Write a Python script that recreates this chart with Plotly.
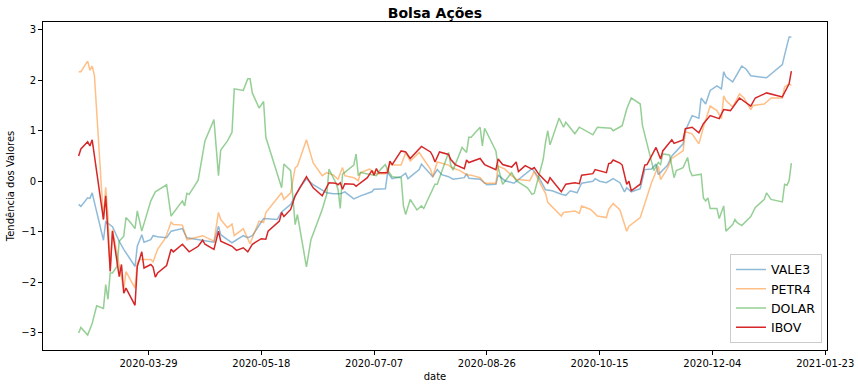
import pandas as pd
import plotly.graph_objects as go

START = "2020-02-27"

# day offsets from START and values
vale_day = [0, 1, 4, 5, 6, 11, 12, 15, 18, 20, 25, 26, 28, 29, 32, 33, 35, 39, 41, 46, 48, 54, 60, 62, 63,
            68, 73, 75, 77, 82, 88, 90, 94, 98, 101, 104, 110, 113, 116, 118, 122, 125, 130, 131, 136, 137,
            139, 143, 145, 146, 148, 151, 152, 155, 157, 159, 161, 164, 166, 171, 172, 173, 178, 181, 185,
            186, 189, 193, 195, 198, 201, 203, 204, 207, 210, 214, 216, 218, 221, 223, 228, 229, 231, 234,
            237, 240, 242, 243, 245, 249, 251, 254, 256, 257, 261, 263, 268, 269, 272, 275, 276, 278, 280,
            283, 285, 286, 287, 290, 294, 296, 298, 305, 312, 313, 315, 316]
vale_val = [-0.46, -0.50, -0.33, -0.34, -0.23, -1.17, -0.80, -0.90, -1.19, -1.35, -1.69, -1.29, -1.06, -1.21,
            -1.16, -1.08, -1.10, -1.12, -0.99, -0.94, -1.12, -1.17, -1.21, -0.89, -1.06,
            -1.22, -1.08, -1.12, -1.08, -0.74, -0.76, -0.61, -0.46, -0.13, 0.05, -0.07, -0.23, -0.25, -0.25,
            -0.21, -0.35, -0.29, -0.21, -0.16, -0.15, 0.17,
            0.05, 0.09, 0.16, 0.05, 0.13, 0.23, 0.34, 0.19, 0.09, 0.23, 0.13, 0.09, 0.04, 0.07, 0.15, 0.06,
            0.04, -0.07, -0.06,
            0.12, 0.01, -0.04, 0.03, 0.13, 0.25, 0.13, 0.08, -0.17, -0.19, -0.26, -0.28, -0.19, -0.23, -0.04,
            0.00, 0.05, 0.00, -0.03,
            0.05, -0.03, -0.21, -0.13, -0.21, -0.15, 0.23, 0.24, 0.34, 0.13, 0.31, 0.50, 0.74, 1.00, 1.30,
            1.25, 1.65, 1.53, 1.80,
            1.89, 1.83, 2.17, 2.07, 1.97, 2.28, 2.22, 2.09, 2.05, 2.31, 2.50, 2.86, 2.86]

petr_day = [0, 1, 4, 5, 6, 7, 11, 12, 13, 14, 15, 17, 18, 20, 21, 25, 26, 27, 32, 33, 35, 38, 39, 41, 42,
            46, 48, 55, 60, 62, 63, 66, 68, 69, 73, 76, 80, 82, 83, 88, 90, 91, 94, 96, 97, 101, 104, 108,
            110, 113, 115, 117, 118, 122, 124, 125, 129, 132, 136, 138, 140, 143, 145, 147, 151, 152, 156,
            157, 159, 164, 165, 169, 172, 174, 178, 180, 185, 186, 189, 192, 194, 200, 202, 206, 207, 208,
            214, 215, 220, 222, 223, 227, 230, 234, 235, 237, 240, 243, 244, 249, 252, 254, 257, 258, 261,
            263, 268, 269, 272, 275, 277, 280, 283, 285, 286, 287, 290, 293, 295, 298, 299, 304, 307, 312,
            313, 315, 316]
petr_val = [2.17, 2.17, 2.38, 2.20, 2.28, 2.10, -0.76, -0.12, -0.69, -1.75, -0.96, -1.42, -1.69, -2.15, -1.79,
            -2.12, -1.62, -1.55, -1.55, -1.60, -1.35, -1.16, -1.06, -0.81, -0.86,
            -0.87, -1.16, -1.08, -1.19, -0.62, -0.76, -0.92, -0.85, -1.08, -0.94, -1.24, -0.79, -0.82, -0.62,
            -0.33, -0.23, -0.36, -0.23, 0.27, 0.30, 0.82, 0.36, 0.11,
            0.17, 0.12, 0.04, 0.27, 0.11, 0.07, 0.01, 0.17, 0.24, 0.15, 0.15, 0.34, 0.32, 0.32, 0.57, 0.40,
            0.57, 0.50, 0.24,
            0.09, 0.38, 0.32, 0.28, 0.21, 0.13, 0.12, 0.07, -0.04, -0.04, 0.30, 0.24, 0.11, 0.04, 0.01, 0.19,
            -0.16, -0.24, -0.42,
            -0.69, -0.62, -0.59, -0.64, -0.49, -0.56, -0.69, -0.72, -0.56, -0.44, -0.57, -0.99, -0.89, -0.72,
            -0.29, -0.03, 0.30, 0.03, 0.25,
            0.45, 0.60, 0.98, 0.94, 0.74, 1.07, 1.49, 1.40, 1.24, 1.69, 1.60, 1.47, 1.73, 1.65, 1.42, 1.50,
            1.53, 1.65, 1.65,
            1.87, 1.93, 1.90]

dolar_day = [0, 1, 4, 6, 8, 11, 12, 13, 14, 15, 17, 18, 20, 21, 23, 25, 26, 27, 28, 32, 34, 39, 41, 46, 47,
             48, 49, 53, 56, 60, 62, 63, 66, 68, 69, 73, 75, 76, 77, 80, 82, 83, 87, 88, 90, 91, 94, 96, 97,
             101, 103, 108, 110, 111, 114, 115, 116, 117, 122, 123, 124, 125, 132, 134, 136, 137, 139, 143,
             144, 145, 147, 150, 152, 153, 158, 159, 164, 165, 166, 170, 172, 173, 174, 178, 179, 180, 184,
             185, 186, 188, 192, 194, 199, 201, 202, 206, 207, 208, 209, 213, 215, 216, 220, 222, 228, 230,
             236, 237, 241, 243, 245, 249, 250, 252, 255, 257, 258, 259, 262, 264, 265, 268, 270, 271, 272,
             276, 277, 278, 279, 280, 283, 284, 286, 287, 290, 291, 292, 294, 298, 300, 304, 305, 307, 312,
             313, 314, 315, 316]
dolar_val = [-3.01, -2.90, -3.05, -2.82, -2.47, -2.52, -2.05, -2.34, -1.82, -1.82, -1.69, -1.19, -1.09, -0.72,
             -0.82, -0.94, -0.59, -0.82, -0.99, -0.39, -0.21, -0.07, -0.69, -0.39, -0.49,
             -0.24, -0.26, 0.02, 0.80, 1.22, 0.11, 0.62, 0.80, 0.97, 1.83, 1.80, 2.03, 2.03, 1.75, 1.45, 1.58,
             0.87, 0.30, 0.11, -0.13, 0.34, 0.21, -0.86, -0.66,
             -1.70, -1.16, -0.56, -0.26, 0.24, -0.03, -0.16, -0.54, 0.14, 0.32, 0.54, 0.11, 0.17, 0.11, 0.24,
             0.33, 0.22, 0.09, 0.07,
             -0.49, -0.66, -0.36, -0.57, -0.49, -0.54, -0.06, -0.06, 0.57, 0.32, 0.22, 0.67, 0.57, 0.87, 0.87,
             1.07, 0.70, 1.05, 0.67,
             0.60, 0.27, -0.06, 0.17, 0.01, -0.13, -0.26, -0.24, 0.44, 0.77, 1.00, 0.72, 1.25, 1.07, 1.17, 0.94,
             1.07, 0.92, 1.07,
             1.05, 1.00, 1.10, 1.43, 1.65, 1.53, 1.10, 0.74, 0.21, 0.37, 0.33, 0.54, 0.52, 0.07, 0.21, 0.27,
             0.47, 0.21, 0.11,
             0.14, -0.33, -0.39, -0.33, -0.54, -0.54, -0.74, -0.49, -0.99, -0.86, -0.76, -0.82, -0.88, -0.70,
             -0.52, -0.36, -0.23, -0.36, -0.41,
             -0.06, -0.08, 0.01, 0.36]

ibov_day = [0, 1, 4, 5, 6, 11, 12, 14, 15, 18, 19, 20, 21, 25, 26, 28, 29, 32, 33, 34, 35, 39, 41, 42, 46,
            49, 53, 55, 56, 60, 62, 63, 68, 70, 73, 75, 77, 81, 83, 84, 89, 90, 91, 94, 96, 101, 104, 108,
            111, 114, 115, 116, 117, 118, 122, 123, 128, 130, 131, 132, 133, 137, 138, 139, 143, 145, 147,
            150, 152, 156, 157, 158, 160, 164, 165, 167, 171, 172, 173, 178, 180, 185, 186, 188, 192, 194,
            195, 198, 201, 202, 204, 206, 208, 209, 214, 216, 220, 222, 223, 228, 229, 234, 235, 236, 237,
            240, 241, 243, 244, 245, 249, 251, 252, 256, 258, 259, 263, 264, 268, 269, 272, 275, 277, 280,
            284, 286, 289, 293, 298, 300, 305, 312, 315, 316]
ibov_val = [0.50, 0.64, 0.78, 0.70, 0.82, -0.76, -0.29, -1.79, -0.99, -1.89, -1.65, -2.22, -2.12, -2.46, -1.69,
            -1.40, -1.72, -1.65, -1.70, -1.90, -1.82, -1.67, -1.35, -1.40, -1.25,
            -1.40, -1.29, -1.17, -1.25, -1.35, -0.99, -1.19, -1.29, -1.37, -1.32, -1.40, -1.25, -1.14, -1.15,
            -0.99, -0.79, -0.62, -0.70, -0.56, -0.29, 0.09, -0.13, -0.29,
            -0.03, -0.04, -0.07, -0.03, -0.16, -0.05, -0.06, -0.10, 0.07, 0.21, 0.12, 0.25, 0.17, 0.17, 0.40,
            0.33, 0.60, 0.58, 0.45,
            0.60, 0.69, 0.58, 0.50, 0.38, 0.58, 0.53, 0.43, 0.33, 0.25, 0.42, 0.37, 0.45, 0.33, 0.23, 0.44,
            0.33, 0.28, 0.38,
            0.19, 0.31, 0.24, 0.27, 0.14, 0.05, -0.04, 0.07, -0.21, -0.06, -0.03, -0.05, 0.12, 0.15, 0.23,
            0.17, 0.35, 0.36, 0.42,
            0.36, 0.32, -0.06, 0.00, -0.19, -0.06, 0.32, 0.33, 0.67, 0.44, 0.60, 0.82, 0.75, 0.82, 1.04, 1.07,
            0.96, 1.14, 1.30,
            1.24, 1.42, 1.40, 1.65, 1.49, 1.65, 1.75, 1.67, 1.93, 2.18]

tick_dates = pd.date_range("2020-03-29", periods=7, freq="50D")
tick_text = [d.strftime("%Y-%m-%d") for d in tick_dates]

base = pd.Timestamp(START)


def to_dates(days):
    return [base + pd.Timedelta(days=int(d)) for d in days]


series = [
    ("VALE3", vale_day, vale_val, "rgba(31,119,180,0.5)"),
    ("PETR4", petr_day, petr_val, "rgba(255,127,14,0.5)"),
    ("DOLAR", dolar_day, dolar_val, "rgba(44,160,44,0.5)"),
    ("IBOV", ibov_day, ibov_val, "rgb(214,39,40)"),
]

fig = go.Figure()
for name, d, v, c in series:
    fig.add_trace(go.Scatter(x=to_dates(d), y=v, mode="lines", name=name,
                             line=dict(color=c, width=1.5)))

# matplotlib-like 5% autoscale margins
all_days = vale_day + petr_day + dolar_day + ibov_day
all_vals = vale_val + petr_val + dolar_val + ibov_val
dmin, dmax = min(all_days), max(all_days)
span = dmax - dmin
x0 = base + pd.Timedelta(days=dmin - 0.05 * span)
x1 = base + pd.Timedelta(days=dmax + 0.05 * span)
vmin, vmax = min(all_vals), max(all_vals)
vs = vmax - vmin

font = "DejaVu Sans"
fig.update_layout(
    width=858, height=388,
    margin=dict(l=43, r=31, t=22, b=38),
    paper_bgcolor="white", plot_bgcolor="white",
    font=dict(family=font, size=10, color="black"),
    title=dict(text="<b>Bolsa Ações</b>", x=0.5, xanchor="center", xref="paper",
               y=1 - 13 / 388, yref="container", yanchor="middle",
               font=dict(size=14, family=font, color="black")),
    showlegend=True,
    legend=dict(x=0.9936, y=0.022, xanchor="right", yanchor="bottom",
                bordercolor="rgb(204,204,204)", borderwidth=1, bgcolor="rgba(255,255,255,0.8)",
                font=dict(size=12.5, family=font, color="black"), tracegroupgap=0,
                itemwidth=30),
)
fig.update_xaxes(range=[x0, x1], tickvals=list(tick_dates), ticktext=tick_text, automargin=False,
                 showline=True, mirror=True, linecolor="black", linewidth=1,
                 ticks="outside", ticklen=4, tickcolor="black", showgrid=False, zeroline=False,
                 title=dict(text="date", font=dict(size=10), standoff=4),
                 tickfont=dict(size=10))
fig.update_yaxes(range=[vmin - 0.05 * vs, vmax + 0.05 * vs], dtick=1, automargin=False,
                 showline=True, mirror=True, linecolor="black", linewidth=1,
                 ticks="outside", ticklen=4, tickcolor="black", showgrid=False, zeroline=False,
                 title=dict(text="Tendência dos Valores", font=dict(size=10), standoff=4),
                 tickfont=dict(size=10))

fig.write_html("out.html")
